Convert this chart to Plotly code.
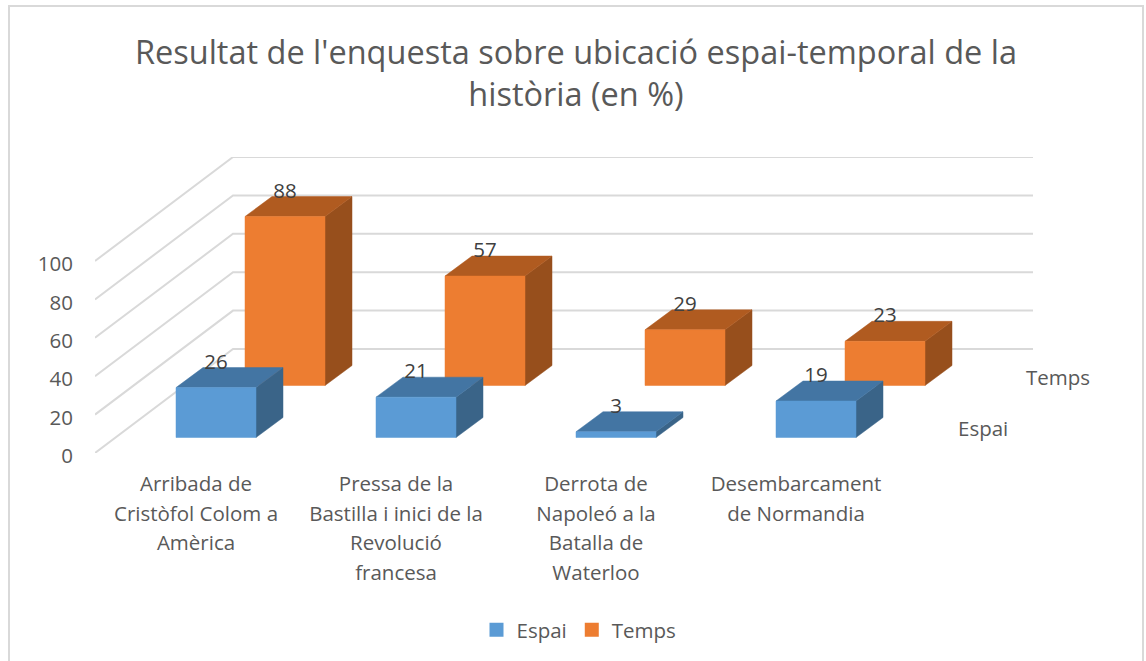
import plotly.graph_objects as go

# ---- data ----
categories = [
    ["Arribada de", "Cristòfol Colom a", "Amèrica"],
    ["Pressa de la", "Bastilla i inici de la", "Revolució", "francesa"],
    ["Derrota de", "Napoleó a la", "Batalla de", "Waterloo"],
    ["Desembarcament", "de Normandia"],
]
espai = [26, 21, 3, 19]
temps = [88, 57, 29, 23]
y_ticks = [0, 20, 40, 60, 80, 100]
title = "Resultat de l'enquesta sobre ubicació espai-temporal de la<br>història (en %)"

# ---- oblique projection styling (axis units) ----
PX_X, PX_Y = 200.0, 1.92
L, R, T, B = 95, 113, 157, 208
W, H = 1146, 661
PW, PH = W - L - R, H - T - B
x_range = [-101 / PX_X, (1033 - 196) / PX_X]
y_range = [0, PH / PX_Y]
WALL_DX, WALL_DY = 138 / PX_X, 104 / PX_Y
BAR_W = 80 / PX_X
BAR_DX, BAR_DY = 27 / PX_X, 20 / PX_Y
LABEL_GAP = 24 / PX_Y

GRID = "#D9D9D9"
TEXT = "#595959"
FONT = "Open Sans"
FS = 20.5

series = [
    dict(name="Espai", vals=espai, x0=-20 / PX_X, base=15.5 / PX_Y,
         front="#5B9BD5", top="#4375A3", side="#3A6488"),
    dict(name="Temps", vals=temps, x0=49 / PX_X, base=67.5 / PX_Y,
         front="#ED7D31", top="#B05B20", side="#974F1C"),
]

fig = go.Figure()

# gridlines on the floor-to-wall planes
gx, gy = [], []
for v in y_ticks:
    gx += [x_range[0], x_range[0] + WALL_DX, x_range[1], None]
    gy += [v, v + WALL_DY, v + WALL_DY, None]
fig.add_trace(go.Scatter(x=gx, y=gy, mode="lines", line=dict(color=GRID, width=2),
                         hoverinfo="skip", showlegend=False, cliponaxis=False))


def faces(s):
    fx, fy, tx, ty, sx, sy = [], [], [], [], [], []
    for i, v in enumerate(s["vals"]):
        x0 = i + s["x0"]
        x1 = x0 + BAR_W
        y0 = s["base"]
        y1 = y0 + v
        fx += [x0, x1, x1, x0, x0, None]
        fy += [y0, y0, y1, y1, y0, None]
        tx += [x0, x1, x1 + BAR_DX, x0 + BAR_DX, x0, None]
        ty += [y1, y1, y1 + BAR_DY, y1 + BAR_DY, y1, None]
        sx += [x1, x1 + BAR_DX, x1 + BAR_DX, x1, x1, None]
        sy += [y0, y0 + BAR_DY, y1 + BAR_DY, y1, y0, None]
    return (fx, fy), (tx, ty), (sx, sy)


def add_face(xy, color, name=None):
    fig.add_trace(go.Scatter(x=xy[0], y=xy[1], mode="lines", fill="toself",
                             fillcolor=color, line=dict(color=color, width=0.5),
                             hoverinfo="skip", showlegend=False, name=name or "",
                             cliponaxis=False))


# back series first so the front series overlaps it
for s in reversed(series):
    f, t, d = faces(s)
    add_face(d, s["side"])
    add_face(t, s["top"])
    add_face(f, s["front"], s["name"])

for s in series:
    fig.add_trace(go.Scatter(
        x=[i + s["x0"] + BAR_W / 2 for i in range(len(s["vals"]))],
        y=[s["base"] + v + LABEL_GAP for v in s["vals"]],
        mode="text", text=[str(v) for v in s["vals"]],
        textposition="middle center",
        textfont=dict(family=FONT, size=FS, color="#404040"),
        hoverinfo="skip", showlegend=False, cliponaxis=False))

for s in series:
    fig.add_trace(go.Scatter(x=[None], y=[None], mode="markers", name=s["name"],
                             marker=dict(symbol="square", size=14, color=s["front"])))

tick_text = ["<br>".join(f'<span style="font-size:{FS}px">{ln}</span>' for ln in c)
             for c in categories]

fig.update_layout(
    width=W, height=H,
    margin=dict(l=L, r=R, t=T, b=B, autoexpand=False),
    paper_bgcolor="white", plot_bgcolor="white",
    font=dict(family=FONT, size=FS, color=TEXT),
    title=dict(text=title, font=dict(family=FONT, size=32.5, color=TEXT),
               x=(576 - L) / PW, xref="paper", xanchor="center",
               y=1 - 64 / H, yref="container", yanchor="top"),
    xaxis=dict(range=x_range, showgrid=False, zeroline=False, showline=False,
               tickmode="array", tickvals=list(range(len(categories))), ticktext=tick_text,
               tickangle=0, ticks="outside", ticklen=10, tickcolor="rgba(0,0,0,0)",
               tickfont=dict(family=FONT, size=22.7, color=TEXT)),
    yaxis=dict(range=y_range, showgrid=False, zeroline=False, showline=False,
               tickmode="array", tickvals=y_ticks, ticklabelshift=3,
               ticks="outside", ticklen=17, tickcolor="rgba(0,0,0,0)",
               tickfont=dict(family=FONT, size=FS, color=TEXT)),
    legend=dict(orientation="h", x=(579 - L) / PW, xanchor="center",
                y=(T + PH - 630) / PH, yanchor="middle",
                font=dict(family=FONT, size=FS, color=TEXT),
                bgcolor="rgba(0,0,0,0)"),
    annotations=[
        dict(x=(1058 - L) / PW, y=(T + PH - 377) / PH, xref="paper", yref="paper", text="Temps",
             xanchor="center", yanchor="middle",
             showarrow=False, font=dict(family=FONT, size=FS, color=TEXT)),
        dict(x=(983 - L) / PW, y=(T + PH - 428) / PH, xref="paper", yref="paper", text="Espai",
             xanchor="center", yanchor="middle",
             showarrow=False, font=dict(family=FONT, size=FS, color=TEXT)),
    ],
    shapes=[dict(type="rect", xref="paper", yref="paper",
                 x0=(9 - L) / PW, x1=(1143 - L) / PW,
                 y0=(T + PH - 670) / PH, y1=(T + PH - 6) / PH,
                 line=dict(color=GRID, width=2), layer="below")],
)

fig.write_html("out.html", config={"displayModeBar": False},
               post_script="document.body.style.margin='0';document.body.style.overflow='hidden';")
